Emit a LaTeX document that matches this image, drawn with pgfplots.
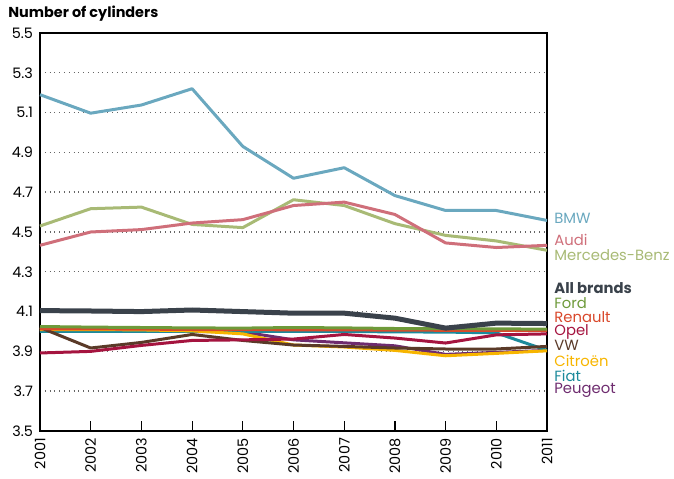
\documentclass[border=0pt]{standalone}
\usepackage{pgfplots}
\pgfplotsset{compat=1.18}
\usepackage{fontspec}
\setmainfont{Poppins}
\usetikzlibrary{calc}

\definecolor{cbmw}{HTML}{6AA8BF}
\definecolor{caudi}{HTML}{CF6F7A}
\definecolor{cmerc}{HTML}{A8BA75}
\definecolor{call}{HTML}{3A424B}
\definecolor{cford}{HTML}{6E9A3A}
\definecolor{crenault}{HTML}{D9482B}
\definecolor{copel}{HTML}{A5143F}
\definecolor{cvw}{HTML}{5A3A28}
\definecolor{ccitroen}{HTML}{F7B500}
\definecolor{cfiat}{HTML}{1C8A9B}
\definecolor{cpeugeot}{HTML}{6E2C6F}

\begin{document}
\begin{tikzpicture}
\begin{axis}[
  name=ax,
  scale only axis,
  width=253.5pt, height=199pt,
  xmin=2001, xmax=2011, ymin=3.5, ymax=5.5,
  xtick={2001,2002,2003,2004,2005,2006,2007,2008,2009,2010,2011},
  ytick={3.5,3.7,3.9,4.1,4.3,4.5,4.7,4.9,5.1,5.3,5.5},
  xtick pos=bottom, tick align=inside, major tick length=5pt,
  ytick style={draw=none},
  xtick style={line width=0.6pt, black},
  x tick label style={rotate=90, anchor=east, /pgf/number format/1000 sep={}},
  y tick label style={/pgf/number format/.cd, fixed, fixed zerofill, precision=1},
  /pgf/number format/assume math mode=true,
  tick label style={font=\fontsize{7.2}{8}\selectfont},
  ymajorgrids,
  grid style={dotted, line width=0.7pt, black!60},
  axis line style={line width=0.7pt},
  clip=false,
  every axis plot/.append style={line width=1.5pt, line join=round},
]
\addplot[cpeugeot] coordinates {(2001,4.005) (2002,4.003) (2003,4.002) (2004,4.0) (2005,3.998) (2006,3.958) (2007,3.943) (2008,3.928) (2009,3.885) (2010,3.895) (2011,3.905)};
\addplot[cfiat] coordinates {(2001,4.0) (2002,4.0) (2003,4.0) (2004,4.0) (2005,4.0) (2006,4.0) (2007,4.0) (2008,3.998) (2009,3.997) (2010,3.993) (2011,3.905)};
\addplot[ccitroen] coordinates {(2001,4.01) (2002,4.01) (2003,4.008) (2004,4.003) (2005,3.988) (2006,3.932) (2007,3.922) (2008,3.905) (2009,3.878) (2010,3.89) (2011,3.903)};
\addplot[cvw] coordinates {(2001,4.02) (2002,3.917) (2003,3.945) (2004,3.985) (2005,3.955) (2006,3.932) (2007,3.925) (2008,3.917) (2009,3.912) (2010,3.912) (2011,3.925)};
\addplot[copel] coordinates {(2001,3.892) (2002,3.9) (2003,3.93) (2004,3.955) (2005,3.958) (2006,3.962) (2007,3.985) (2008,3.967) (2009,3.942) (2010,3.983) (2011,3.988)};
\addplot[crenault] coordinates {(2001,4.013) (2002,4.013) (2003,4.012) (2004,4.01) (2005,4.01) (2006,4.008) (2007,4.008) (2008,4.007) (2009,4.006) (2010,4.005) (2011,4.005)};
\addplot[cford] coordinates {(2001,4.025) (2002,4.022) (2003,4.02) (2004,4.018) (2005,4.017) (2006,4.02) (2007,4.018) (2008,4.015) (2009,4.015) (2010,4.013) (2011,4.012)};
\addplot[cmerc] coordinates {(2001,4.53) (2002,4.617) (2003,4.625) (2004,4.538) (2005,4.522) (2006,4.662) (2007,4.633) (2008,4.542) (2009,4.483) (2010,4.455) (2011,4.408)};
\addplot[caudi] coordinates {(2001,4.433) (2002,4.5) (2003,4.512) (2004,4.545) (2005,4.562) (2006,4.633) (2007,4.65) (2008,4.588) (2009,4.445) (2010,4.422) (2011,4.433)};
\addplot[cbmw] coordinates {(2001,5.19) (2002,5.097) (2003,5.138) (2004,5.22) (2005,4.93) (2006,4.77) (2007,4.823) (2008,4.683) (2009,4.608) (2010,4.608) (2011,4.558)};
\addplot[call, line width=2.5pt] coordinates {(2001,4.105) (2002,4.103) (2003,4.1) (2004,4.108) (2005,4.1) (2006,4.092) (2007,4.092) (2008,4.067) (2009,4.017) (2010,4.042) (2011,4.04)};

\begin{scope}[every node/.style={anchor=west, xshift=3.5pt, font=\fontsize{7.4}{8}\selectfont, inner sep=0pt}]
\node[text=cbmw] at (axis cs:2011,4.568) {BMW};
\node[text=caudi] at (axis cs:2011,4.458) {Audi};
\node[text=cmerc] at (axis cs:2011,4.383) {Mercedes-Benz};
\node[text=call, font=\bfseries\fontsize{7.4}{8}\selectfont] at (axis cs:2011,4.218) {All brands};
\node[text=cford] at (axis cs:2011,4.143) {Ford};
\node[text=crenault] at (axis cs:2011,4.073) {Renault};
\node[text=copel] at (axis cs:2011,3.998) {Opel};
\node[text=cvw] at (axis cs:2011,3.928) {VW};
\node[text=ccitroen] at (axis cs:2011,3.853) {Citroën};
\node[text=cfiat] at (axis cs:2011,3.778) {Fiat};
\node[text=cpeugeot] at (axis cs:2011,3.703) {Peugeot};
\end{scope}
\end{axis}
\node[anchor=west, inner sep=0pt, font=\bfseries\fontsize{7.2}{8}\selectfont] at ($(ax.north west)+(-16pt,9.5pt)$) {Number of cylinders};
\pgfresetboundingbox
\path[use as bounding box] ($(ax.south west)+(-20pt,-24pt)$) rectangle ($(ax.north east)+(63.5pt,16.5pt)$);
\end{tikzpicture}
\end{document}
